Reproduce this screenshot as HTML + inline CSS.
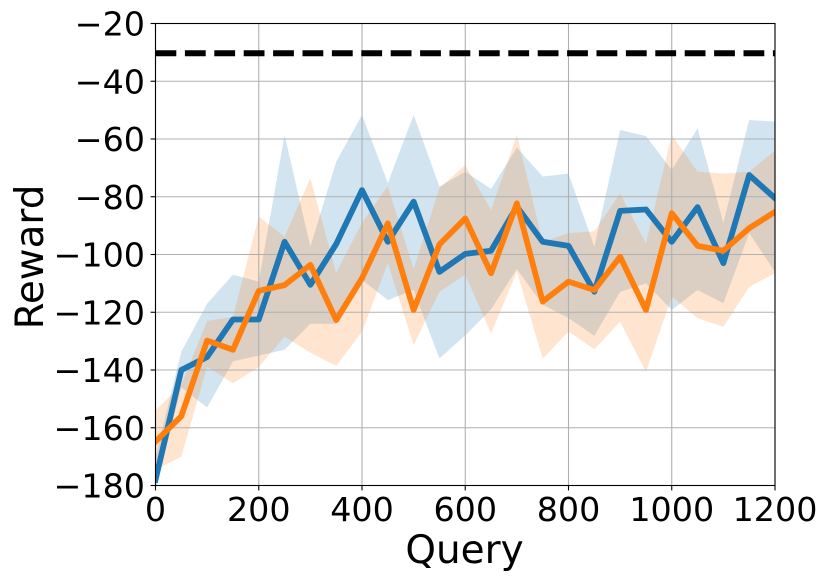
<!DOCTYPE html>
<html lang="en">
<head>
<meta charset="utf-8">
<title>Reward vs Query</title>
<style>
html,body{margin:0;padding:0;background:#fff;width:827px;height:581px;overflow:hidden}
svg{display:block}
text{font-family:"DejaVu Sans",sans-serif;fill:#000}
</style>
</head>
<body>
<svg id="chart" width="827" height="581" viewBox="0 0 827 581" xmlns="http://www.w3.org/2000/svg">
  <defs>
    <clipPath id="plot-clip"><rect x="155.5" y="23.5" width="619.5" height="462"></rect></clipPath>
  </defs>
  <g id="bands" clip-path="url(#plot-clip)"></g>
  <g id="grid"></g>
  <g id="lines" clip-path="url(#plot-clip)"></g>
  <g id="ticks"></g>
  <rect x="155.5" y="23.5" width="619.5" height="462" fill="none" stroke="#000" stroke-width="1.1"></rect>
  <text x="464.5" y="563.2" font-size="38.9" text-anchor="middle">Query</text>
  <text transform="translate(43,257) rotate(-90)" font-size="38.9" text-anchor="middle">Reward</text>
</svg>
<script>
const queries = [0,50,100,150,200,250,300,350,400,450,500,550,600,650,700,750,800,850,900,950,1000,1050,1100,1150,1200];
const blueMean = [-178,-140,-135.5,-122.5,-122.5,-95.6,-110.5,-96.4,-77.7,-95.6,-81.7,-106,-99.8,-98.7,-83.4,-95.6,-97,-112.9,-84.9,-84.4,-95.6,-83.6,-103,-72.5,-80.5];
const blueUpper = [-170,-133.7,-117,-107,-109.4,-58.6,-97.3,-67.9,-51.7,-75.2,-51.7,-76.5,-71.3,-77.3,-63,-73,-72,-97.3,-56.9,-59,-70.7,-56.3,-89,-53.4,-54];
const blueLower = [-182,-146,-153,-137,-135,-133,-124,-124,-108.8,-115.8,-112.3,-136,-128,-119,-105,-117.4,-122,-128.2,-113,-110,-119.2,-112.3,-116.9,-92.6,-106];
const orangeMean = [-164.8,-156,-129.8,-133,-112.6,-110.6,-103.6,-122.7,-108.2,-89.2,-119.2,-96.5,-87.5,-106.5,-82.3,-116.3,-109.4,-112.3,-100.8,-119.2,-85.7,-97,-98.7,-90.9,-85.2];
const orangeUpper = [-154,-145.2,-123,-121.6,-86.9,-93.8,-73.5,-106.4,-89,-76.3,-105,-77,-69,-84.6,-58.6,-95.6,-92.6,-92,-78.8,-96.2,-58.6,-71.3,-72,-71.3,-64];
const orangeLower = [-174.6,-170,-138.9,-144.6,-139,-128.5,-134,-138.6,-126.7,-103,-131.4,-112.9,-107,-127.3,-106,-136,-126.7,-132.8,-123.3,-140.6,-114.6,-122.1,-125,-111.2,-106.5];
const referenceLevel = [-30.3];
const xTickValues = [0,200,400,600,800,1000,1200];
const yTickValues = [-20,-40,-60,-80,-100,-120,-140,-160,-180];

const NS = 'http://www.w3.org/2000/svg';
const xDomain = [0, 1200];
const yDomain = [-180, -20];
const xRange = [155.5, 775];
const yRange = [485.5, 23.5];

function xScale(v) {
  return xRange[0] + (v - xDomain[0]) / (xDomain[1] - xDomain[0]) * (xRange[1] - xRange[0]);
}
function yScale(v) {
  return yRange[0] + (v - yDomain[0]) / (yDomain[1] - yDomain[0]) * (yRange[1] - yRange[0]);
}
function make(tag, attrs, parent) {
  const el = document.createElementNS(NS, tag);
  Object.keys(attrs).forEach(function (k) { el.setAttribute(k, attrs[k]); });
  parent.appendChild(el);
  return el;
}
function pointsFor(values) {
  return values.map(function (v, i) { return xScale(queries[i]).toFixed(2) + ',' + yScale(v).toFixed(2); });
}
function formatTick(v) {
  return v < 0 ? '\u2212' + Math.abs(v) : String(v);
}

const bandsG = document.getElementById('bands');
const gridG = document.getElementById('grid');
const linesG = document.getElementById('lines');
const ticksG = document.getElementById('ticks');

const blueBandPts = pointsFor(blueUpper).concat(pointsFor(blueLower).reverse()).join(' ');
const blueBand = make('polygon', { points: blueBandPts, fill: '#1f77b4', 'fill-opacity': 0.2 }, bandsG);



const orangeBandPts = pointsFor(orangeUpper).concat(pointsFor(orangeLower).reverse()).join(' ');
const orangeBand = make('polygon', { points: orangeBandPts, fill: '#ff7f0e', 'fill-opacity': 0.2 }, bandsG);



xTickValues.forEach(function (v) {
  const x = xScale(v);
  const gridLine = make('line', { x1: x, x2: x, y1: yRange[1], y2: yRange[0], stroke: '#b0b0b0', 'stroke-width': 1.1 }, gridG);
  
  
  const tick = make('line', { x1: x, x2: x, y1: yRange[0], y2: yRange[0] + 4.9, stroke: '#000', 'stroke-width': 1.1 }, ticksG);
  
  
  const label = make('text', { x: x, y: 521.2, 'font-size': 33.33, 'text-anchor': 'middle' }, ticksG);
  
  
  label.textContent = formatTick(v);
});

yTickValues.forEach(function (v) {
  const y = yScale(v);
  const gridLine = make('line', { x1: xRange[0], x2: xRange[1], y1: y, y2: y, stroke: '#b0b0b0', 'stroke-width': 1.1 }, gridG);
  
  
  const tick = make('line', { x1: xRange[0] - 4.9, x2: xRange[0], y1: y, y2: y, stroke: '#000', 'stroke-width': 1.1 }, ticksG);
  
  
  const label = make('text', { x: 145, y: y + 12.1, 'font-size': 33.33, 'text-anchor': 'end' }, ticksG);
  
  
  label.textContent = formatTick(v);
});

const refLine = make('line', { x1: xRange[0], x2: xRange[1], y1: yScale(referenceLevel[0]), y2: yScale(referenceLevel[0]), stroke: '#000', 'stroke-width': 6, 'stroke-dasharray': '20.8 8.6' }, linesG);



const blueLine = make('polyline', { points: pointsFor(blueMean).join(' '), fill: 'none', stroke: '#1f77b4', 'stroke-width': 5.8, 'stroke-linejoin': 'round', 'stroke-linecap': 'square' }, linesG);



const orangeLine = make('polyline', { points: pointsFor(orangeMean).join(' '), fill: 'none', stroke: '#ff7f0e', 'stroke-width': 5.8, 'stroke-linejoin': 'round', 'stroke-linecap': 'square' }, linesG);


</script>
</body>
</html>
